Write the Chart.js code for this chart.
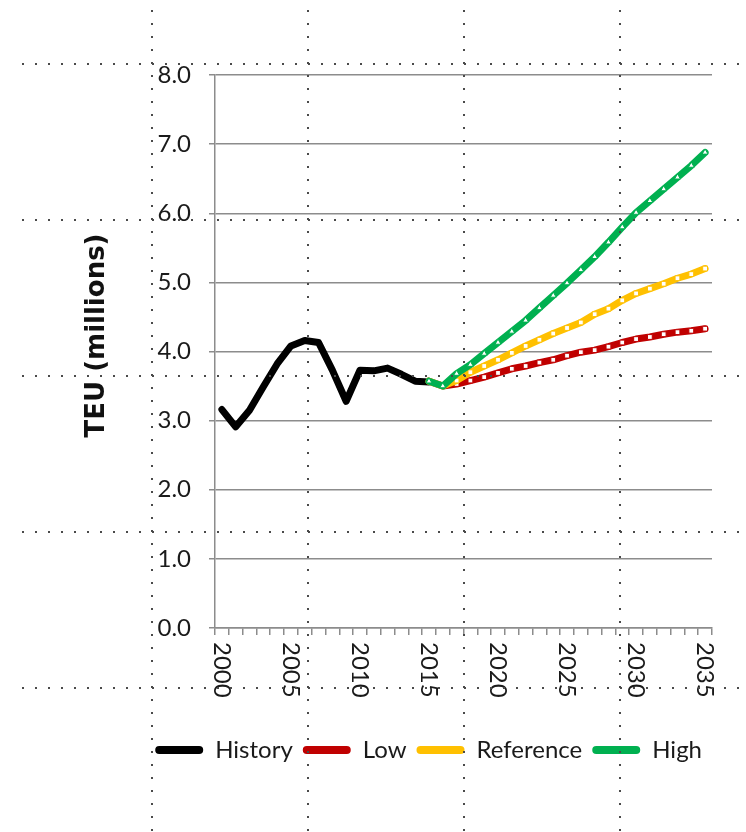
<!DOCTYPE html>
<html>
<head>
<meta charset="utf-8">
<script src="https://cdn.jsdelivr.net/npm/chart.js@4"></script>
<style>
  html, body { margin: 0; padding: 0; background: #fff; }
  #wrap { width: 746px; height: 832px; }
</style>
</head>
<body>
<div id="wrap"><canvas id="teuChart" width="746" height="832"></canvas></div>
<script>
// Data
const years = ['2000','2001','2002','2003','2004','2005','2006','2007','2008','2009',
  '2010','2011','2012','2013','2014','2015','2016','2017','2018','2019',
  '2020','2021','2022','2023','2024','2025','2026','2027','2028','2029',
  '2030','2031','2032','2033','2034','2035'];
const shownYears = ['2000','2005','2010','2015','2020','2025','2030','2035'];

const history = [3.16, 2.91, 3.15, 3.49, 3.82, 4.08, 4.16, 4.13, 3.73, 3.28,
  3.73, 3.72, 3.76, 3.67, 3.57, 3.56];
const low = [3.57, 3.50, 3.53, 3.58, 3.63, 3.69, 3.75, 3.79, 3.84, 3.88,
  3.94, 3.99, 4.02, 4.07, 4.13, 4.18, 4.21, 4.25, 4.28, 4.30, 4.33];
const reference = [3.57, 3.50, 3.58, 3.70, 3.79, 3.88, 3.98, 4.08, 4.17, 4.26,
  4.34, 4.42, 4.54, 4.62, 4.74, 4.84, 4.91, 4.98, 5.06, 5.12, 5.20];
const high = [3.57, 3.50, 3.68, 3.81, 3.97, 4.13, 4.29, 4.45, 4.63, 4.81,
  4.99, 5.18, 5.37, 5.58, 5.80, 6.01, 6.18, 6.35, 6.52, 6.69, 6.88];
const projStart = '2015';

// Page layout guides (dotted lines over the picture)
const guideCols = [152, 308, 464, 620];
const guideRows = [64, 220, 376, 532, 688];

const FONT = 'Lato, "DejaVu Sans", sans-serif';
const GRID = '#8c8c8c';

// projections start in 2015, pad the front with nulls
function fromYear(start, values) {
  const pad = years.indexOf(start);
  return years.map((y, i) => (i < pad ? null : (values[i - pad] ?? null)));
}

const customText = {
  id: 'customText',
  afterDraw(chart) {
    const ctx = chart.ctx;
    const x = chart.scales.x;
    const area = chart.chartArea;
    ctx.save();
    // x labels, rotated to read top to bottom
    ctx.fillStyle = '#1a1a1a';
    ctx.font = '24px ' + FONT;
    ctx.textAlign = 'left';
    ctx.textBaseline = 'middle';
    years.forEach((yr, i) => {
      if (!shownYears.includes(yr)) return;
      ctx.save();
      ctx.translate(x.getPixelForTick(i), x.top + 14);
      ctx.rotate(Math.PI / 2);
      ctx.fillText(yr, 0, 0);
      ctx.restore();
    });
    // y axis title
    ctx.save();
    ctx.font = 'bold 26px "DejaVu Sans", sans-serif';
    ctx.textAlign = 'center';
    ctx.textBaseline = 'middle';
    ctx.fillStyle = '#111';
    ctx.translate(97, (area.top + area.bottom) / 2 - 16);
    ctx.rotate(-Math.PI / 2);
    ctx.fillText('TEU (millions)', 0, 0);
    ctx.restore();
    // dotted guides
    ctx.fillStyle = '#4a4a4a';
    guideRows.forEach(gy => {
      for (let gx = 22; gx < chart.width; gx += 13) ctx.fillRect(gx, gy - 1, 2, 2);
    });
    guideCols.forEach(gx => {
      for (let gy = 10; gy < chart.height; gy += 13) ctx.fillRect(gx - 1, gy, 2, 2);
    });
    ctx.restore();
  }
};

function lineSet(label, data, color, style, order) {
  return {
    label: label,
    data: data,
    borderColor: color,
    backgroundColor: color,
    borderWidth: 7,
    borderCapStyle: 'round',
    borderJoinStyle: 'round',
    tension: 0,
    pointStyle: style,
    pointRadius: style ? 3.4 : 0,
    pointBackgroundColor: '#fff',
    pointBorderColor: color,
    pointBorderWidth: 1,
    spanGaps: false,
    order: order
  };
}

const ctx = document.getElementById('teuChart').getContext('2d');
new Chart(ctx, {
  type: 'line',
  data: {
    labels: years,
    datasets: [
      lineSet('History', history, '#000000', false, 3),
      lineSet('Low', fromYear(projStart, low), '#c00000', 'rect', 2),
      lineSet('Reference', fromYear(projStart, reference), '#ffc000', 'rect', 1),
      lineSet('High', fromYear(projStart, high), '#00b050', 'triangle', 0)
    ]
  },
  options: {
    responsive: false,
    animation: false,
    layout: { padding: { left: 0, top: 75, right: 34, bottom: 60 } },
    scales: {
      x: {
        type: 'category',
        offset: true,
        grid: { display: true, drawOnChartArea: false, drawTicks: true, tickLength: 7, offset: true, color: GRID, lineWidth: 1.5 },
        border: { display: true, color: GRID, width: 1.5 },
        ticks: { display: false, autoSkip: false },
        afterFit(scale) { scale.height = 100; }
      },
      y: {
        min: 0,
        max: 8,
        grid: { color: GRID, lineWidth: 1.5, drawTicks: true, tickLength: 6 },
        border: { display: true, color: GRID, width: 1.5 },
        ticks: {
          stepSize: 1,
          padding: 18,
          color: '#1a1a1a',
          font: { family: FONT, size: 24 },
          callback: v => v.toFixed(1)
        },
        afterFit(scale) { scale.width = 215; }
      }
    },
    plugins: {
      legend: {
        position: 'bottom',
        align: 'end',
        labels: {
          boxWidth: 48,
          boxHeight: 8,
          padding: 10,
          color: '#1a1a1a',
          font: { family: FONT, size: 24 },
          useBorderRadius: true,
          borderRadius: 4,
          sort: (a, b) => a.datasetIndex - b.datasetIndex,
          generateLabels(chart) {
            const items = Chart.defaults.plugins.legend.labels.generateLabels(chart);
            items.forEach(it => { it.lineWidth = 0; it.fillStyle = it.strokeStyle; });
            return items;
          }
        }
      },
      tooltip: { enabled: false }
    }
  },
  plugins: [customText]
});
</script>
</body>
</html>
